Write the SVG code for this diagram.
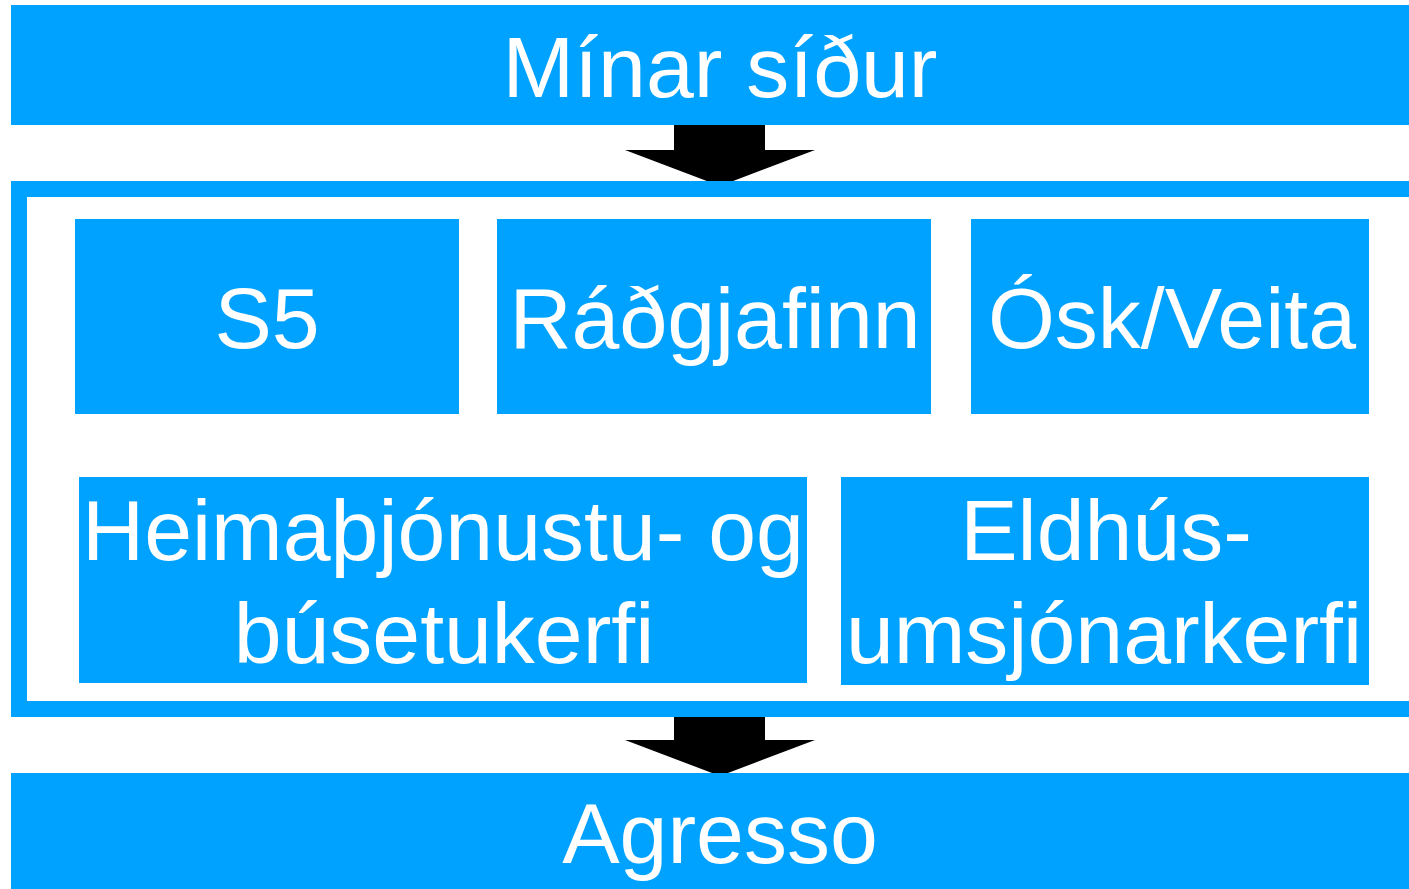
<svg xmlns="http://www.w3.org/2000/svg" width="1409" height="889" viewBox="0 0 1409 889">
<style>
.box{fill:#00A2FF}
.t{font-family:"Liberation Sans",Arial,sans-serif;font-size:86px;fill:#fff;text-anchor:middle}
.arrow{fill:#000}
</style>
<rect x="0" y="0" width="1409" height="889" fill="#fff"/>
<g id="connectors">
<polygon class="arrow" points="674,125 765,125 765,150 815,150 720,186 625,150 674,150"/>
<polygon class="arrow" points="674,715 765,715 765,740 815,740 720,776 625,740 674,740"/>
</g>
<g id="minar-sidur">
<rect class="box" x="11" y="5" width="1398" height="120"/>
<text class="t" x="720" y="97">Mínar síður</text>
</g>
<g id="container">
<rect x="19" y="189" width="1410" height="520" fill="none" stroke="#00A2FF" stroke-width="16"/>
</g>
<g id="s5">
<rect class="box" x="75" y="219" width="384" height="195"/>
<text class="t" x="267" y="348">S5</text>
</g>
<g id="radgjafinn">
<rect class="box" x="497" y="219" width="434" height="195"/>
<text class="t" x="715" y="348">Ráðgjafinn</text>
</g>
<g id="osk-veita">
<rect class="box" x="971" y="219" width="398" height="195"/>
<text class="t" x="1172" y="348">Ósk/Veita</text>
</g>
<g id="heimathjonustu">
<rect class="box" x="79" y="477" width="728" height="206"/>
<text class="t" x="443" y="560">Heimaþjónustu- og</text>
<text class="t" x="444" y="663">búsetukerfi</text>
</g>
<g id="eldhus">
<rect class="box" x="841" y="477" width="528" height="208"/>
<text class="t" x="1106" y="560">Eldhús-</text>
<text class="t" x="1104" y="663">umsjónarkerfi</text>
</g>
<g id="agresso">
<rect class="box" x="11" y="773" width="1398" height="116"/>
<text class="t" x="720" y="863">Agresso</text>
</g>
</svg>
